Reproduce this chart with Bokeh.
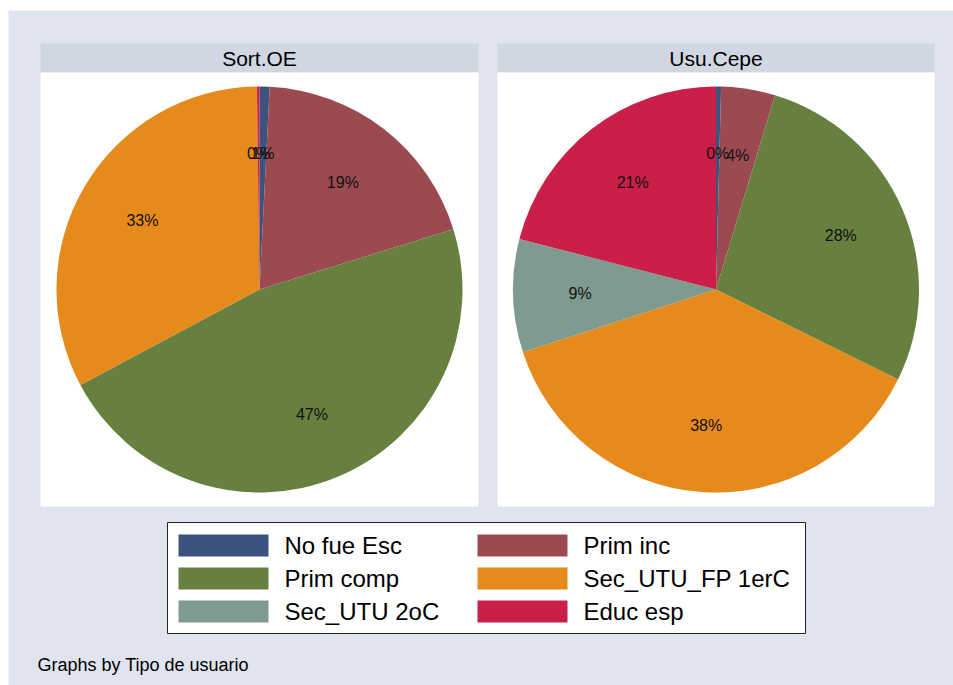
import math
from bokeh.plotting import figure
from bokeh.models import Range1d, ColumnDataSource
from bokeh.embed import file_html
from bokeh.resources import INLINE
from bokeh.core.properties import value

# ---------------- data ----------------
categories = ["No fue Esc", "Prim inc", "Prim comp", "Sec_UTU_FP 1erC", "Sec_UTU 2oC", "Educ esp"]
colors = ["#3E527E", "#9B4A51", "#67803F", "#E68A1B", "#7F9A8E", "#C91F48"]
panels = ["Sort.OE", "Usu.Cepe"]
sort_oe = [0.8, 19.4, 47.0, 32.6, 0.0, 0.2]
usu_cepe = [0.4, 4.3, 27.6, 37.7, 9.0, 21.0]
note = "Graphs by Tipo de usuario"

# ---------------- layout ----------------
W, H = 953, 685
FONT = "Liberation Sans"
BG = "#DFE4EF"
STRIP = "#D0D7E3"


def Y(sy):
    # screen y (pixels from top) -> data y
    return H - sy


p = figure(width=W, height=H, x_range=Range1d(0, W), y_range=Range1d(0, H),
           min_border=0, toolbar_location=None, output_backend="svg",
           x_axis_location=None, y_axis_location=None)
p.grid.visible = False
p.outline_line_color = None
p.background_fill_color = "white"
p.border_fill_color = "white"

# graph region background
p.quad(left=[8], right=[W], top=[Y(10)], bottom=[Y(H)], fill_color=BG, line_color=None)

panel_x = [(40, 478), (497, 934)]
strip_top, strip_bot, plot_bot = 43, 72, 506
R = 203
label_r = 136

for (x0, x1), title, vals in zip(panel_x, panels, [sort_oe, usu_cepe]):
    p.quad(left=[x0], right=[x1], top=[Y(strip_top)], bottom=[Y(strip_bot)],
           fill_color=STRIP, line_color=None)
    p.quad(left=[x0], right=[x1], top=[Y(strip_bot)], bottom=[Y(plot_bot)],
           fill_color="white", line_color=None)
    cx = (x0 + x1) / 2
    p.text(x=[cx], y=[Y((strip_top + strip_bot) / 2)], text=[title],
           text_font=value(FONT), text_font_size="21px", text_color="black",
           text_align="center", text_baseline="middle")

    cy = Y(289)
    total = sum(vals)
    cum = 0.0
    xs, ys, ss, es, cs = [], [], [], [], []
    lx, ly, lt = [], [], []
    for v, c in zip(vals, colors):
        c0 = cum / total
        cum += v
        c1 = cum / total
        if v <= 0:
            continue
        # Stata: start at 12 o'clock, clockwise
        start = math.radians(90 - 360 * c1)
        end = math.radians(90 - 360 * c0)
        xs.append(cx); ys.append(cy); ss.append(start); es.append(end); cs.append(c)
        mid = (start + end) / 2
        lx.append(cx + label_r * math.cos(mid))
        ly.append(cy + label_r * math.sin(mid))
        lt.append("%d%%" % round(100 * v / total))
    src = ColumnDataSource(dict(x=xs, y=ys, s=ss, e=es, c=cs))
    p.wedge(x="x", y="y", radius=R, start_angle="s", end_angle="e", direction="anticlock",
            fill_color="c", line_color=None, source=src)
    p.text(x=lx, y=ly, text=lt, text_font=value(FONT), text_font_size="16px",
           text_color="#111111", text_align="center", text_baseline="middle")

# legend box
p.quad(left=[167], right=[805], top=[Y(522)], bottom=[Y(633)],
       fill_color="white", line_color="#222222", line_width=1)
sw_x = [178, 477]
tx_x = [284, 583]
row_top = [534, 567, 600]
sw_w, sw_h = 90, 22
lq = dict(l=[], r=[], t=[], b=[], c=[])
ltx, lty, ltt = [], [], []
for i, (cat, col) in enumerate(zip(categories, colors)):
    r, k = divmod(i, 2)
    lq["l"].append(sw_x[k]); lq["r"].append(sw_x[k] + sw_w)
    lq["t"].append(Y(row_top[r])); lq["b"].append(Y(row_top[r] + sw_h)); lq["c"].append(col)
    ltx.append(tx_x[k]); lty.append(Y(row_top[r] + sw_h / 2)); ltt.append(cat)
p.quad(left="l", right="r", top="t", bottom="b", fill_color="c", line_color=None,
       source=ColumnDataSource(lq))
p.text(x=ltx, y=lty, text=ltt, text_font=value(FONT), text_font_size="24px",
       text_color="black", text_align="left", text_baseline="middle")

# note
p.text(x=[37], y=[Y(664)], text=[note], text_font=value(FONT), text_font_size="18px",
       text_color="black", text_align="left", text_baseline="alphabetic")

open("out.html", "w").write(file_html(p, INLINE))
